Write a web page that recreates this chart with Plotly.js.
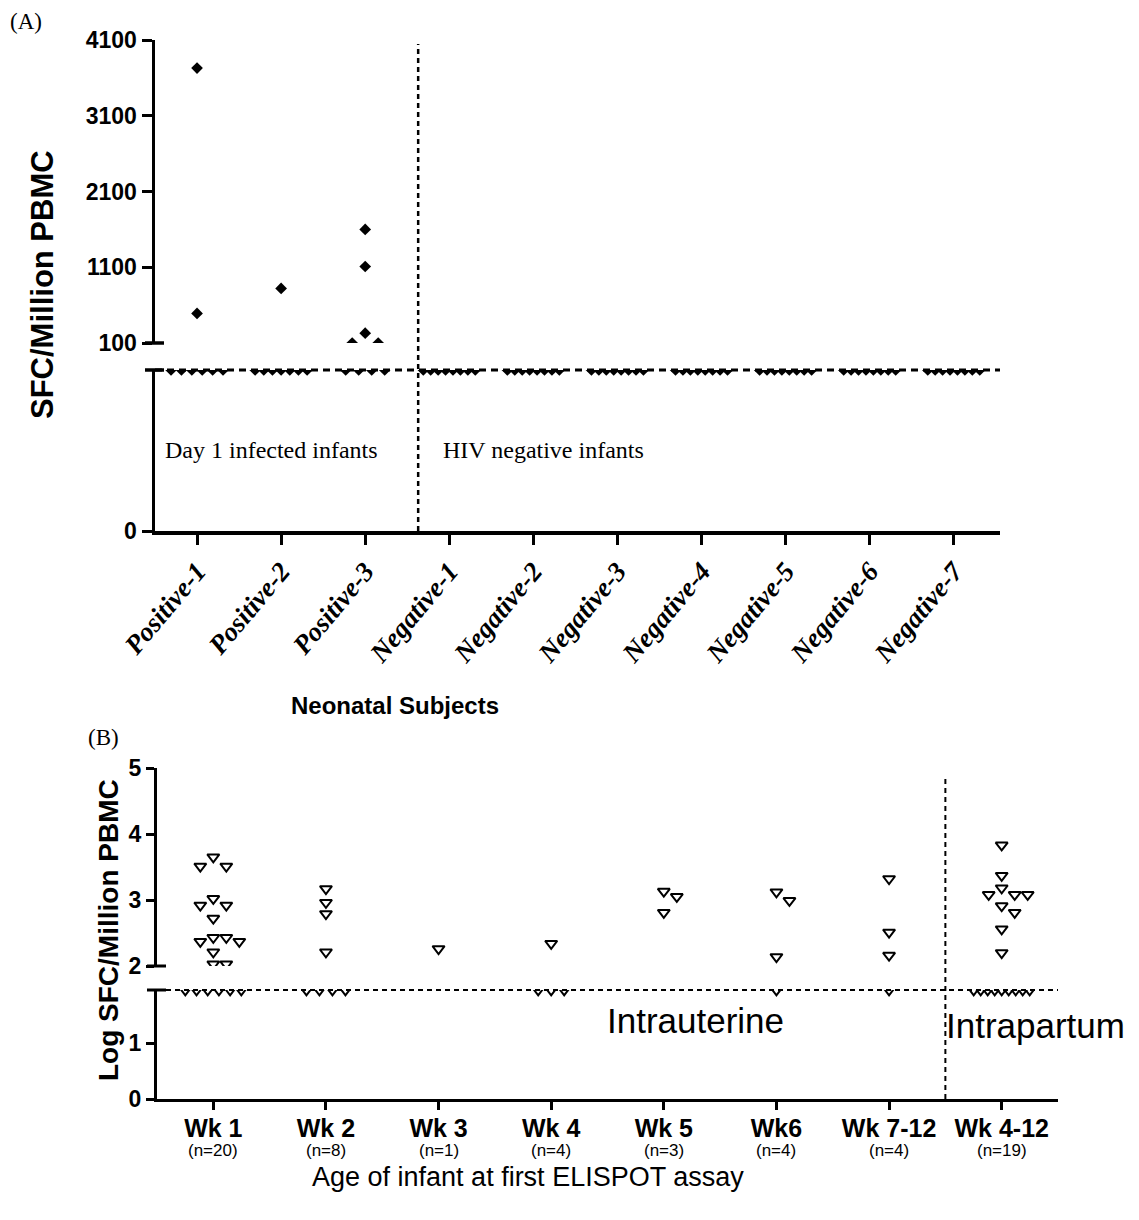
<!DOCTYPE html>
<html><head><meta charset="utf-8">
<script src="https://cdn.plot.ly/plotly-3.0.1.min.js"></script>
<style>html,body{margin:0;padding:0;background:#fff}#chart{width:1139px;height:1220px}</style>
</head><body><div id="chart"></div>
<script>
// ---------------- Panel A data (SFC / million PBMC) ----------------
const subjectsA = ['Positive-1','Positive-2','Positive-3','Negative-1','Negative-2','Negative-3','Negative-4','Negative-5','Negative-6','Negative-7'];
const CUT_A = 50;            // responses below detection, drawn on the cut-off line
const positive1 = [3730, 490, 50, 50, 50, 50, 50, 50];
const positive2 = [820, 50, 50, 50, 50, 50, 50, 50];
const positive3 = [1600, 1110, 230, 100, 100, 50, 50, 50, 50];
const negative1 = [50, 50, 50, 50, 50, 50, 50, 50];
const negative2 = [50, 50, 50, 50, 50, 50, 50, 50];
const negative3 = [50, 50, 50, 50, 50, 50, 50, 50];
const negative4 = [50, 50, 50, 50, 50, 50, 50, 50];
const negative5 = [50, 50, 50, 50, 50, 50, 50, 50];
const negative6 = [50, 50, 50, 50, 50, 50, 50, 50];
const negative7 = [50, 50, 50, 50, 50, 50, 50, 50];
const yTicksA = [100, 1100, 2100, 3100, 4100];
const dividerA = 2.63;       // boundary between infected and HIV negative infants (category units)

// ---------------- Panel B data (log SFC / million PBMC) ----------------
const groupsB = ['Wk 1','Wk 2','Wk 3','Wk 4','Wk 5','Wk6','Wk 7-12','Wk 4-12'];
const countsB = ['(n=20)','(n=8)','(n=1)','(n=4)','(n=3)','(n=4)','(n=4)','(n=19)'];
const CUT_B = 1.95;          // below-detection responses drawn on the cut-off line
const wk1   = [3.65, 3.51, 3.51, 3.02, 2.92, 2.92, 2.72, 2.43, 2.43, 2.37, 2.37, 2.21, 2.03, 2.03, 1.95, 1.95, 1.95, 1.95, 1.95, 1.95];
const wk2   = [3.17, 2.96, 2.79, 2.21, 1.95, 1.95, 1.95, 1.95];
const wk3   = [2.26];
const wk4   = [2.34, 1.95, 1.95, 1.95];
const wk5   = [3.13, 3.05, 2.81];
const wk6   = [3.12, 2.99, 2.14, 1.95];
const wk7to12 = [3.32, 2.51, 2.16, 1.95];
const wk4to12 = [3.83, 3.37, 3.18, 3.08, 3.08, 3.08, 2.91, 2.81, 2.56, 2.20, 1.95, 1.95, 1.95, 1.95, 1.95, 1.95, 1.95, 1.95, 1.95];
const yTicksBUpper = [2, 3, 4, 5];
const yTicksBLower = [0, 1];
const dividerB = 6.5;        // boundary between intrauterine and intrapartum groups

const valuesA = [positive1, positive2, positive3, negative1, negative2, negative3, negative4, negative5, negative6, negative7];
const valuesB = [wk1, wk2, wk3, wk4, wk5, wk6, wk7to12, wk4to12];

// ---------------- geometry (pixels) ----------------
const W = 1139, H = 1220;
const GA = {xL:155, xR:1000, yTop:40, yUp:343, yLow:370, yBot:531, xr:[-0.5, 9.55], upper:[100, 4100], lower:[0, CUT_A]};
const GB = {xL:157, xR:1058, yTop:768, yUp:966, yLow:990, yBot:1099, xr:[-0.5, 7.5], upper:[2, 5], lower:[0, CUT_B]};
const fx = p => p / W, fy = p => 1 - p / H;

// column scatter layout (GraphPad-like): returns x offsets in category units
function spread(vals, pxPerUnit, catPx, wPx, hPx) {
  const order = vals.map((v, i) => i).sort((a, b) => vals[b] - vals[a]);
  const placed = [], off = new Array(vals.length);
  order.forEach(i => {
    const y = vals[i] * pxPerUnit;
    for (let k = 0; k < 40; k++) {
      const c = k === 0 ? 0 : (k % 2 ? Math.ceil(k / 2) : -k / 2);
      const ok = placed.every(p => Math.abs(p.x - c * wPx) > wPx - 0.5 || Math.abs(p.y - y) >= hPx);
      if (ok) { placed.push({x: c * wPx, y}); off[i] = c * wPx / catPx; break; }
    }
  });
  return off;
}
function lineOffsets(n, catPx, maxW, step) {
  const s = n > 1 ? Math.min(step, maxW / (n - 1)) : 0;
  return Array.from({length: n}, (_, k) => (k - (n - 1) / 2) * s / catPx);
}
function buildPanel(values, G, wPx, hPx, baseStep, baseMax) {
  const catPx = (G.xR - G.xL) / (G.xr[1] - G.xr[0]);
  const pxU = (G.yUp - G.yTop) / (G.upper[1] - G.upper[0]);
  const up = {x: [], y: []}, lo = {x: [], y: []};
  values.forEach((vals, ci) => {
    const hi = vals.filter(v => v >= G.upper[0]);
    const base = vals.filter(v => v < G.upper[0]);
    const o1 = spread(hi, pxU, catPx, wPx, hPx);
    hi.forEach((v, k) => { up.x.push(ci + o1[k]); up.y.push(v); });
    const o2 = lineOffsets(base.length, catPx, baseMax, baseStep);
    base.forEach((v, k) => { lo.x.push(ci + o2[k]); lo.y.push(v); });
  });
  return {up, lo};
}
const pA = buildPanel(valuesA, GA, 13, 11, 13, 52);
const pB = buildPanel(valuesB, GB, 13, 10, 13, 56);

const mA = {symbol: 'diamond', size: 9, color: 'black', line: {width: 0}};
const mB = {symbol: 'triangle-down-open', size: 10.5, color: 'black', line: {width: 2, color: 'black'}};
const traces = [
  {x: pA.up.x, y: pA.up.y, xaxis: 'x', yaxis: 'y2', mode: 'markers', marker: mA, cliponaxis: true, hoverinfo: 'y'},
  {x: pA.lo.x, y: pA.lo.y, xaxis: 'x', yaxis: 'y', mode: 'markers', marker: mA, cliponaxis: true, hoverinfo: 'y'},
  {x: pB.up.x, y: pB.up.y, xaxis: 'x2', yaxis: 'y4', mode: 'markers', marker: mB, cliponaxis: true, hoverinfo: 'y'},
  {x: pB.lo.x, y: pB.lo.y, xaxis: 'x2', yaxis: 'y3', mode: 'markers', marker: mB, cliponaxis: true, hoverinfo: 'y'}
];

const SANS = "'Liberation Sans', Arial, sans-serif";
const NARROW = "'Liberation Sans Narrow', 'Liberation Sans', Arial, sans-serif";
const SERIF = "'Liberation Serif', 'Times New Roman', serif";

const axBase = {showline: true, linecolor: 'black', ticks: 'outside', tickcolor: 'black', showgrid: false, zeroline: false, fixedrange: true};
const yFont = {family: SANS, size: 23, weight: 'bold', color: 'black'};

const layout = {
  width: W, height: H, margin: {l: 0, r: 0, t: 0, b: 0}, showlegend: false,
  paper_bgcolor: 'white', plot_bgcolor: 'rgba(0,0,0,0)',
  xaxis: Object.assign({}, axBase, {domain: [fx(GA.xL), fx(GA.xR)], range: GA.xr, anchor: 'y',
    tickmode: 'array', tickvals: subjectsA.map((s, i) => i), ticktext: subjectsA, tickangle: -50,
    linewidth: 3.5, ticklen: 10, tickwidth: 3,
    tickfont: {family: SERIF, size: 27, weight: 'bold', style: 'italic', color: 'black'}}),
  yaxis: Object.assign({}, axBase, {domain: [fy(GA.yBot), fy(GA.yLow)], range: GA.lower, anchor: 'x',
    tickmode: 'array', tickvals: [0], linewidth: 3.5, ticklen: 10, tickwidth: 3, tickfont: yFont}),
  yaxis2: Object.assign({}, axBase, {domain: [fy(GA.yUp), fy(GA.yTop)], range: GA.upper, anchor: 'x',
    tickmode: 'array', tickvals: yTicksA, linewidth: 3.5, ticklen: 10, tickwidth: 3, tickfont: yFont}),
  xaxis2: Object.assign({}, axBase, {domain: [fx(GB.xL), fx(GB.xR)], range: GB.xr, anchor: 'y3',
    tickmode: 'array', tickvals: groupsB.map((s, i) => i), ticktext: groupsB,
    linewidth: 3, ticklen: 8, tickwidth: 3, ticklabelstandoff: -3,
    tickfont: {family: NARROW, size: 25, weight: 'bold', color: 'black'}}),
  yaxis3: Object.assign({}, axBase, {domain: [fy(GB.yBot), fy(GB.yLow)], range: GB.lower, anchor: 'x2',
    tickmode: 'array', tickvals: yTicksBLower, linewidth: 3, ticklen: 8, tickwidth: 3, tickfont: yFont}),
  yaxis4: Object.assign({}, axBase, {domain: [fy(GB.yUp), fy(GB.yTop)], range: GB.upper, anchor: 'x2',
    tickmode: 'array', tickvals: yTicksBUpper, linewidth: 3, ticklen: 8, tickwidth: 3, tickfont: yFont}),
  shapes: [],
  annotations: []
};

function xPaper(G, v) { return fx(G.xL + (v - G.xr[0]) / (G.xr[1] - G.xr[0]) * (G.xR - G.xL)); }
function hline(x0, x1, y, w, dash) { return {type: 'line', xref: 'paper', yref: 'paper', x0: fx(x0), x1: fx(x1), y0: fy(y), y1: fy(y), line: {color: 'black', width: w, dash: dash}}; }
// cut-off lines
layout.shapes.push(hline(GA.xL, GA.xR, GA.yLow, 3, '7px,5px'));
layout.shapes.push(hline(GB.xL, GB.xR, GB.yLow, 2.2, '5px,4px'));
// group dividers
layout.shapes.push({type: 'line', xref: 'paper', yref: 'paper', x0: xPaper(GA, dividerA), x1: xPaper(GA, dividerA), y0: fy(GA.yBot), y1: fy(44), line: {color: 'black', width: 2.5, dash: '5px,4px'}});
layout.shapes.push({type: 'line', xref: 'paper', yref: 'paper', x0: xPaper(GB, dividerB), x1: xPaper(GB, dividerB), y0: fy(GB.yBot), y1: fy(776), line: {color: 'black', width: 2, dash: '5px,4px'}});
// axis break caps
[[GA, GA.yUp, 3.5], [GA, GA.yLow, 3.5], [GB, GB.yUp, 3], [GB, GB.yLow, 3]].forEach(([G, y, w]) => {
  layout.shapes.push(hline(G.xL - 10, G.xL + 9, y, w, 'solid'));
});

function ann(text, x, y, font, opts) {
  return Object.assign({text, x: fx(x), y: fy(y), xref: 'paper', yref: 'paper', showarrow: false, font: Object.assign({color: 'black'}, font), xanchor: 'center', yanchor: 'middle'}, opts || {});
}
layout.annotations.push(ann('(A)', 8, 22, {family: SERIF, size: 23}, {xanchor: 'left'}));
layout.annotations.push(ann('(B)', 86, 737, {family: SERIF, size: 23}, {xanchor: 'left'}));
layout.annotations.push(ann('SFC/Million PBMC', 42, 285, {family: SANS, size: 31, weight: 'bold'}, {textangle: -90}));
layout.annotations.push(ann('Neonatal Subjects', 395, 705, {family: NARROW, size: 24, weight: 'bold'}));
layout.annotations.push(ann('Day 1 infected infants', 163, 450, {family: SERIF, size: 24}, {xanchor: 'left'}));
layout.annotations.push(ann('HIV negative infants', 441, 450, {family: SERIF, size: 24}, {xanchor: 'left'}));
layout.annotations.push(ann('Log SFC/Million PBMC', 108, 930, {family: SANS, size: 28, weight: 'bold'}, {textangle: -90}));
layout.annotations.push(ann('Intrauterine', 695, 1020, {family: NARROW, size: 35}));
layout.annotations.push(ann('Intrapartum', 1035, 1025, {family: NARROW, size: 35}));
layout.annotations.push(ann('Age of infant at first ELISPOT assay', 528, 1177, {family: NARROW, size: 27}));
// sample sizes under each group label
countsB.forEach((c, i) => {
  layout.annotations.push({text: c, x: i, y: fy(1150), xref: 'x2', yref: 'paper', showarrow: false,
    font: {family: NARROW, size: 17, color: 'black'}, xanchor: 'center', yanchor: 'middle'});
});

Plotly.newPlot('chart', traces, layout, {staticPlot: true, displayModeBar: false});
</script></body></html>
